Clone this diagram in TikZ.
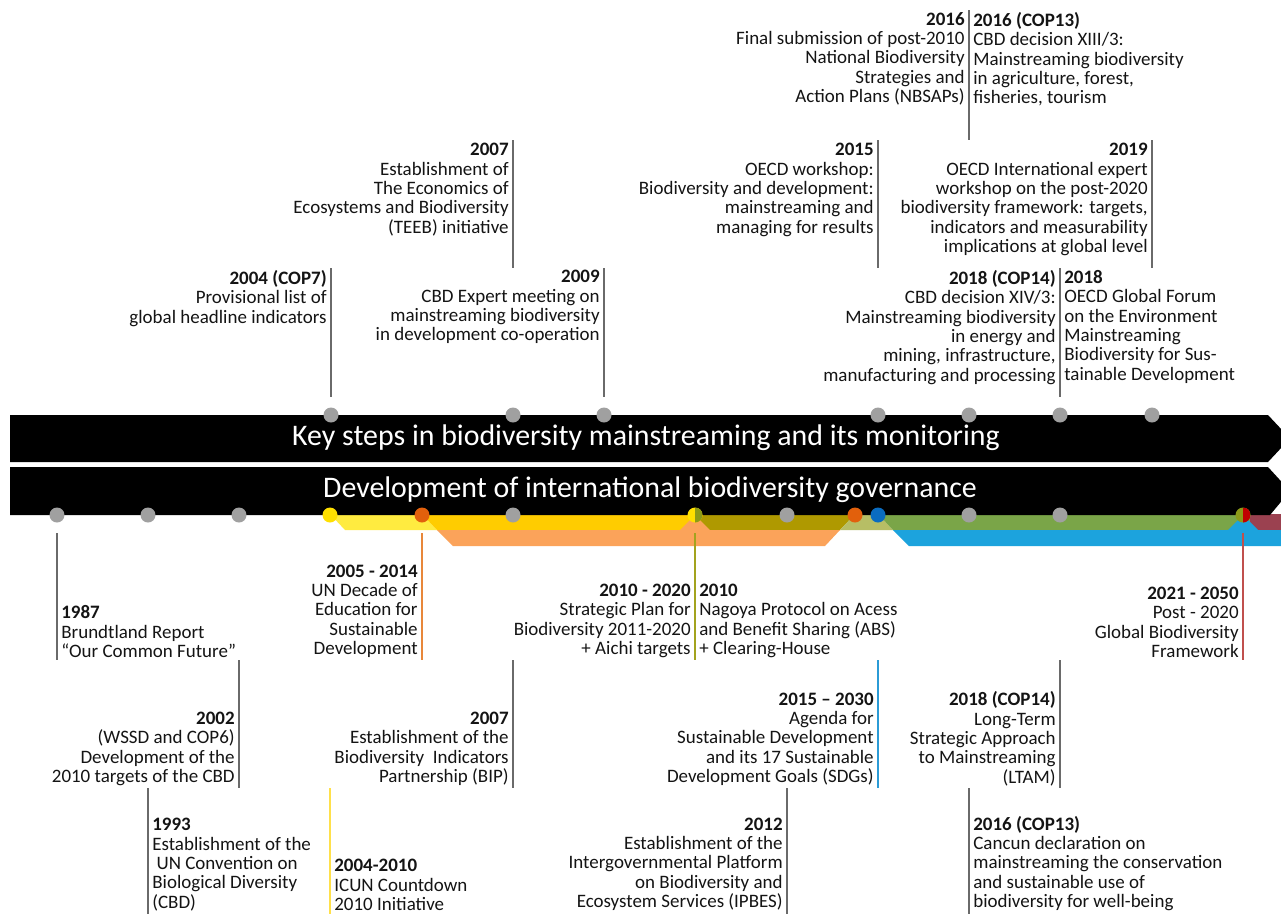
\documentclass[tikz,border=0pt]{standalone}
\usepackage{fontspec}
\setmainfont{Carlito}
\usetikzlibrary{positioning}

\definecolor{dotgray}{HTML}{A0A0A0}
\definecolor{dotyellow}{HTML}{FFE000}
\definecolor{dotorange}{HTML}{E2600C}
\definecolor{dotblue}{HTML}{0A6CC0}
\definecolor{dotolive}{HTML}{8C9A18}
\definecolor{dotred}{HTML}{C00000}
\definecolor{stripelemon}{HTML}{FFEB40}
\definecolor{stripeyellow}{HTML}{FFCC00}
\definecolor{stripeorange}{HTML}{FBA35A}
\definecolor{stripeolive}{HTML}{AF9900}
\definecolor{stripesage}{HTML}{B7BE65}
\definecolor{stripegreen}{HTML}{7AA548}
\definecolor{stripeblue}{HTML}{1CA3DD}
\definecolor{stripewine}{HTML}{9B4150}
\definecolor{tickgray}{HTML}{6A6A6A}
\definecolor{tickorange}{HTML}{E8873A}
\definecolor{tickolive}{HTML}{A3A31E}
\definecolor{tickblue}{HTML}{2B9BD6}
\definecolor{tickred}{HTML}{C0504D}
\definecolor{tickyellow}{HTML}{FFE04A}
\definecolor{txt}{HTML}{141414}

\tikzset{
  evt/.style={font=\fontsize{10.8}{11}\selectfont, text=txt, inner sep=0pt},
  upl/.style={evt, anchor=north east, align=right},
  upr/.style={evt, anchor=north west, align=left},
  dnl/.style={evt, anchor=south east, align=right},
  dnr/.style={evt, anchor=south west, align=left},
  tick/.style={draw=tickgray, line width=0.7pt},
  dot/.style={circle, minimum size=0.3cm, inner sep=0pt, fill=dotgray},
  halfdot/.style 2 args={dot, fill=#1, path picture={
      \fill[#2] (path picture bounding box.north) rectangle (path picture bounding box.south east);}},
  bandtxt/.style={font=\fontsize{17}{20}\selectfont, text=white, inner sep=0pt},
}

\begin{document}
\begin{tikzpicture}[x=0.02cm, y=-0.02cm]
\fill[white] (0,0) rectangle (1281,914);
\useasboundingbox (0,0) rectangle (1281,914);

% === colour stripes under the governance band ===
\fill[stripelemon]  (330,514) -- (422,514) -- (437,530) -- (345,530) -- cycle;
\fill[stripeyellow] (422,514) -- (695,514) -- (695,530) -- (437,530) -- cycle;
\fill[stripeolive]  (695,514) -- (855,514) -- (840,530) -- (695,530) -- cycle;
\fill[stripesage]   (855,514) -- (878,514) -- (893,530) -- (840,530) -- cycle;
\fill[stripegreen]  (878,514) -- (1250,514) -- (1250,530) -- (893,530) -- cycle;
\fill[stripewine]   (1250,514) -- (1281,514) -- (1281,530) -- (1250,530) -- cycle;
\fill[stripeorange] (437,530) -- (840,530) -- (825,546) -- (453,546) -- cycle;
\fill[stripeorange] (680,530) -- (695,515) -- (710,530) -- cycle;
\fill[stripeblue]   (893,530) -- (1281,530) -- (1281,546) -- (909,546) -- cycle;
\fill[stripeblue]   (1228,530) -- (1243,515) -- (1258,530) -- cycle;

% === the two bands ===
\fill[black] (10,415) -- (1268,415) -- (1290,438.5) -- (1268,462) -- (10,462) -- cycle;
\fill[black] (10,467) -- (1268,467) -- (1290,491) -- (1270,515) -- (10,515) -- cycle;
\node[bandtxt] (keysteps) at (646,438) {Key steps in biodiversity mainstreaming and its monitoring};
\node[bandtxt] (govern) at (650,490) {Development of international biodiversity governance};

% === dots on the bands ===
\foreach \n/\x in {1/331, 2/513, 3/604, 4/878, 5/969, 6/1060, 7/1152}
  \node[dot] (k\n) at (\x,415) {};
\foreach \n/\x in {1/57, 2/148, 3/239, 4/513, 5/787, 6/969, 7/1060}
  \node[dot] (g\n) at (\x,515) {};
\node[dot, fill=dotyellow] (gicun) at (330,515) {};
\node[dot, fill=dotorange] (gdecade) at (422,515) {};
\node[halfdot={dotyellow}{dotolive}] (gaichi) at (695,515) {};
\node[dot, fill=dotorange] (gipbes) at (855,515) {};
\node[dot, fill=dotblue] (gsdg) at (878,515) {};
\node[halfdot={dotolive}{dotred}] (gpost) at (1243,515) {};

% === ticks ===
\foreach \n/\x/\ya/\yb/\c in {
    a/969/10/140/tickgray, b/513/140/268/tickgray, c/878/140/268/tickgray,
    d/1152/140/268/tickgray, e/331/268/397/tickgray, f/604/268/397/tickgray,
    g/1060/268/397/tickgray,
    h/57/533/660/tickgray, i/422/533/660/tickorange, j/695/533/660/tickolive,
    k/1243/533/660/tickred, l/239/660/788/tickgray, m/513/660/788/tickgray,
    n/878/660/788/tickblue, o/1060/660/788/tickgray, p/148/788/914/tickgray,
    q/330/788/914/tickyellow, r/787/788/914/tickgray, s/969/788/914/tickgray} {
  \coordinate (t\n) at (\x,\ya);
  \coordinate (b\n) at (\x,\yb);
  \draw[tick, draw=\c] (t\n) -- (b\n);
}

% === events above ===
\node[upl] (nbsap) at (965,12) {\textbf{2016}\\Final submission of post-2010\\National Biodiversity\\Strategies and\\Action Plans (NBSAPs)};
\node[upr] (cop13a) at (973,12) {\textbf{2016 (COP13)}\\CBD decision XIII/3:\\Mainstreaming biodiversity\\in agriculture, forest,\\fisheries, tourism};

\node[upl] (teeb) at (509,143) {\textbf{2007}\\Establishment of\\The Economics of\\Ecosystems and Biodiversity\\(TEEB) initiative};
\node[upl] (oecd15) at (874,143) {\textbf{2015}\\OECD workshop:\\Biodiversity and development:\\mainstreaming and\\managing for results};
\node[upl] (oecd19) at (1148,143) {\textbf{2019}\\OECD International expert\\workshop on the post-2020\\biodiversity framework: targets,\\indicators and measurability\\implications at global level};

\node[upl] (cop7) at (327,270) {\textbf{2004 (COP7)}\\Provisional list of\\global headline indicators};
\node[upl] (cbd09) at (600,270) {\textbf{2009}\\CBD Expert meeting on\\mainstreaming biodiversity\\in development co-operation};
\node[upl] (cop14a) at (1056,270) {\textbf{2018 (COP14)}\\CBD decision XIV/3:\\Mainstreaming biodiversity\\in energy and\\mining, infrastructure,\\manufacturing and processing};
\node[upr] (forum) at (1064,270) {\textbf{2018}\\OECD Global Forum\\on the Environment\\Mainstreaming\\Biodiversity for Sus-\\tainable Development};

% === events below ===
\node[dnr] (brundt) at (61,658) {\textbf{1987}\\Brundtland Report\\“Our Common Future”};
\node[dnl] (decade) at (418,658) {\textbf{2005 - 2014}\\UN Decade of\\Education for\\Sustainable\\Development};
\node[dnl] (strat) at (691,658) {\textbf{2010 - 2020}\\Strategic Plan for\\Biodiversity 2011-2020\\+ Aichi targets};
\node[dnr] (nagoya) at (699,658) {\textbf{2010}\\Nagoya Protocol on Acess\\and Benefit Sharing (ABS)\\+ Clearing-House};
\node[dnl] (gbf) at (1239,658) {\textbf{2021 - 2050}\\Post - 2020\\Global Biodiversity\\Framework};

\node[dnl] (wssd) at (235,786) {\textbf{2002}\\(WSSD and COP6)\\Development of the\\2010 targets of the CBD};
\node[dnl] (bip) at (509,786) {\textbf{2007}\\Establishment of the\\Biodiversity\ \ Indicators\\Partnership (BIP)};
\node[dnl] (sdg) at (874,786) {\textbf{2015 – 2030}\\Agenda for\\Sustainable Development\\and its 17 Sustainable\\Development Goals (SDGs)};
\node[dnl] (ltam) at (1056,786) {\textbf{2018 (COP14)}\\Long-Term\\Strategic Approach\\to Mainstreaming\\(LTAM)};

\node[dnr] (unc) at (152,911) {\textbf{1993}\\Establishment of the\\\ UN Convention on\\Biological Diversity\\(CBD)};
\node[dnr] (icun) at (334,911) {\textbf{2004-2010}\\ICUN Countdown\\2010 Initiative};
\node[dnl] (ipbes) at (783,911) {\textbf{2012}\\Establishment of the\\Intergovernmental Platform\\on Biodiversity and\\Ecosystem Services (IPBES)};
\node[dnr] (cancun) at (973,911) {\textbf{2016 (COP13)}\\Cancun declaration on\\mainstreaming the conservation\\and sustainable use of\\biodiversity for well-being};
\end{tikzpicture}
\end{document}
